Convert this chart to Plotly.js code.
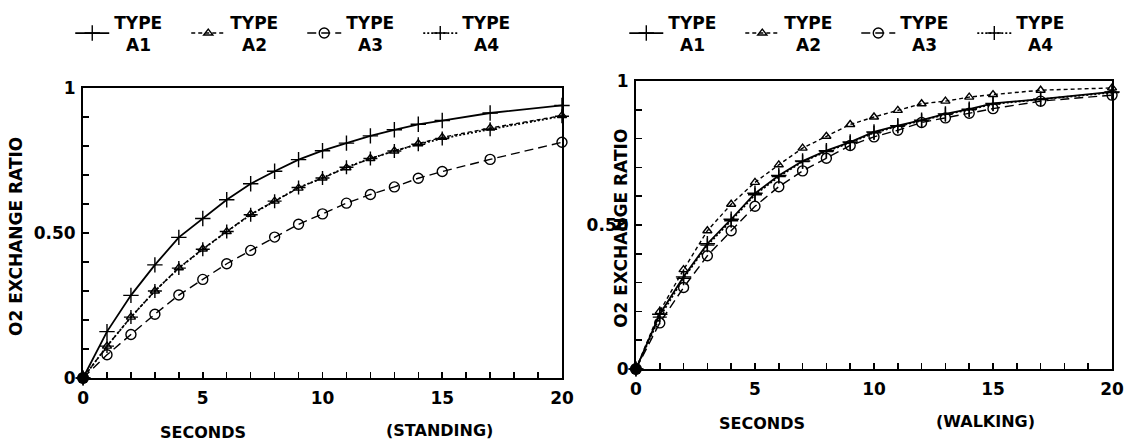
<!DOCTYPE html>
<html>
<head>
<meta charset="utf-8">
<script src="https://cdn.plot.ly/plotly-3.0.1.min.js"></script>
<style>html,body{margin:0;padding:0;background:#fff;}#chart{width:1133px;height:447px;}</style>
</head>
<body>
<div id="chart"></div>
<script>
// Time points (seconds)
const seconds = [0,1,2,3,4,5,6,7,8,9,10,11,12,13,14,15,17,20];

// Standing panel
const standA1 = [0,0.16,0.285,0.39,0.485,0.55,0.615,0.67,0.713,0.753,0.784,0.81,0.835,0.856,0.875,0.888,0.914,0.94];
const standA2 = [0,0.11,0.21,0.30,0.38,0.445,0.505,0.565,0.61,0.655,0.69,0.725,0.757,0.783,0.808,0.83,0.862,0.905];
const standA3 = [0,0.08,0.15,0.22,0.286,0.34,0.394,0.44,0.486,0.53,0.566,0.603,0.633,0.659,0.689,0.712,0.754,0.813];
const standA4 = [0,0.11,0.21,0.30,0.379,0.444,0.505,0.563,0.61,0.657,0.69,0.727,0.757,0.783,0.806,0.826,0.858,0.903];

// Walking panel
const walkA1 = [0,0.19,0.32,0.435,0.52,0.61,0.672,0.722,0.758,0.788,0.823,0.845,0.864,0.886,0.902,0.922,0.937,0.962];
const walkA2 = [0,0.20,0.345,0.48,0.572,0.648,0.709,0.767,0.808,0.849,0.875,0.898,0.921,0.93,0.944,0.953,0.968,0.976];
const walkA3 = [0,0.16,0.283,0.393,0.48,0.565,0.633,0.688,0.732,0.776,0.806,0.829,0.856,0.872,0.888,0.904,0.93,0.951];
const walkA4 = [0,0.18,0.315,0.43,0.515,0.605,0.668,0.72,0.755,0.786,0.82,0.843,0.862,0.884,0.9,0.92,0.936,0.96];

const seriesNames = ['TYPE<br>\u00a0\u00a0A1','TYPE<br>\u00a0\u00a0A2','TYPE<br>\u00a0\u00a0A3','TYPE<br>\u00a0\u00a0A4'];
const xTickVals = [0,5,10,15,20];
const xTickText = ['0','5','10','15','20'];
const yTickVals = [0,0.5,1];
const yTickText = ['0','0.50','1'];

const styles = [
  {dash:'solid', symbol:'cross-thin-open', width:1.8, size:11},
  {dash:'4px,3px', symbol:'triangle-up-open', width:1.4, size:8},
  {dash:'9px,5px', symbol:'circle-open', width:1.4, size:10},
  {dash:'2px,2px', symbol:'cross-thin-open', width:1.8, size:10}
];

function mk(y, i, xa, ya, leg){
  const s = styles[i];
  return {
    x: seconds, y: y, type:'scatter', mode:'lines+markers',
    name: seriesNames[i], xaxis: xa, yaxis: ya, legend: leg,
    cliponaxis:false,
    line:{color:'#000', width:s.width, dash:s.dash},
    marker:{symbol:s.symbol, size:s.size, color:'#000', line:{color:'#000', width:1.4}}
  };
}
// common starting point of all curves, drawn as the heavy dot at the origin
function origin(y, xa, ya){
  return {x:[seconds[0]], y:[y[0]], type:'scatter', mode:'markers', xaxis:xa, yaxis:ya,
    showlegend:false, cliponaxis:false, marker:{symbol:'circle', size:12, color:'#000'}};
}

const data = [
  mk(standA1,0,'x','y','legend'), mk(standA2,1,'x','y','legend'),
  mk(standA3,2,'x','y','legend'), mk(standA4,3,'x','y','legend'),
  mk(walkA1,0,'x2','y2','legend2'), mk(walkA2,1,'x2','y2','legend2'),
  mk(walkA3,2,'x2','y2','legend2'), mk(walkA4,3,'x2','y2','legend2'),
  origin(standA1,'x','y'), origin(walkA1,'x2','y2')
];

const FONT = 'DejaVu Sans, sans-serif';
function xax(dom, anchor){
  return {domain:dom, anchor:anchor, range:[0,20], showgrid:false, zeroline:false,
    showline:true, mirror:true, linecolor:'#000', linewidth:2,
    tickmode:'array', tickvals:xTickVals, ticktext:xTickText,
    ticks:'inside', ticklen:6, tickwidth:1.5, tickcolor:'#000',
    minor:{dtick:1, tick0:0, ticks:'inside', ticklen:6, tickwidth:1.5, tickcolor:'#000'},
    tickfont:{family:FONT, size:17, color:'#000', weight:'bold'}, ticklabelstandoff:4};
}
function yax(dom, anchor){
  return {domain:dom, anchor:anchor, range:[0,1], showgrid:false, zeroline:false,
    showline:true, mirror:true, linecolor:'#000', linewidth:2,
    tickmode:'array', tickvals:yTickVals, ticktext:yTickText,
    ticks:'inside', ticklen:6, tickwidth:1.5, tickcolor:'#000',
    minor:{dtick:0.1, tick0:0, ticks:'inside', ticklen:6, tickwidth:1.5, tickcolor:'#000'},
    tickfont:{family:FONT, size:17, color:'#000', weight:'bold'}, ticklabelstandoff:2};
}

const legendBase = {orientation:'h', xanchor:'left', yanchor:'top', y:0.99,
  font:{family:FONT, size:17, color:'#000', weight:'bold'}, bgcolor:'rgba(0,0,0,0)',
  entrywidth:67, entrywidthmode:'pixels', itemwidth:34, tracegroupgap:0, valign:'middle'};

const ann = (text, xref, x, y, size) => ({text:text, xref:xref, yref:'paper', x:x, y:y,
  showarrow:false, xanchor:'center', yanchor:'middle',
  font:{family:FONT, size:size||16, color:'#000', weight:'bold'}});

const layout = {
  width:1133, height:447, paper_bgcolor:'#fff', plot_bgcolor:'#fff',
  margin:{l:0, r:0, t:0, b:0},
  showlegend:true,
  xaxis: xax([0.0733,0.496],'y'),
  yaxis: yax([0.1544,0.803],'x'),
  xaxis2: xax([0.5613,0.9815],'y2'),
  yaxis2: yax([0.1745,0.8188],'x2'),
  legend: Object.assign({}, legendBase, {x:0.062}),
  legend2: Object.assign({}, legendBase, {x:0.551}),
  annotations:[
    ann('SECONDS','x',5,0.032), ann('(STANDING)','x',14.9,0.038),
    ann('SECONDS','x2',5.3,0.052), ann('(WALKING)','x2',14.7,0.058),
    Object.assign(ann('O2 EXCHANGE RATIO','paper',0.014,0.472,17),{textangle:-90, xref:'paper'}),
    Object.assign(ann('O2 EXCHANGE RATIO','paper',0.548,0.49,17),{textangle:-90, xref:'paper'})
  ]
};

Plotly.newPlot('chart', data, layout, {staticPlot:true, displayModeBar:false});
</script>
</body>
</html>
